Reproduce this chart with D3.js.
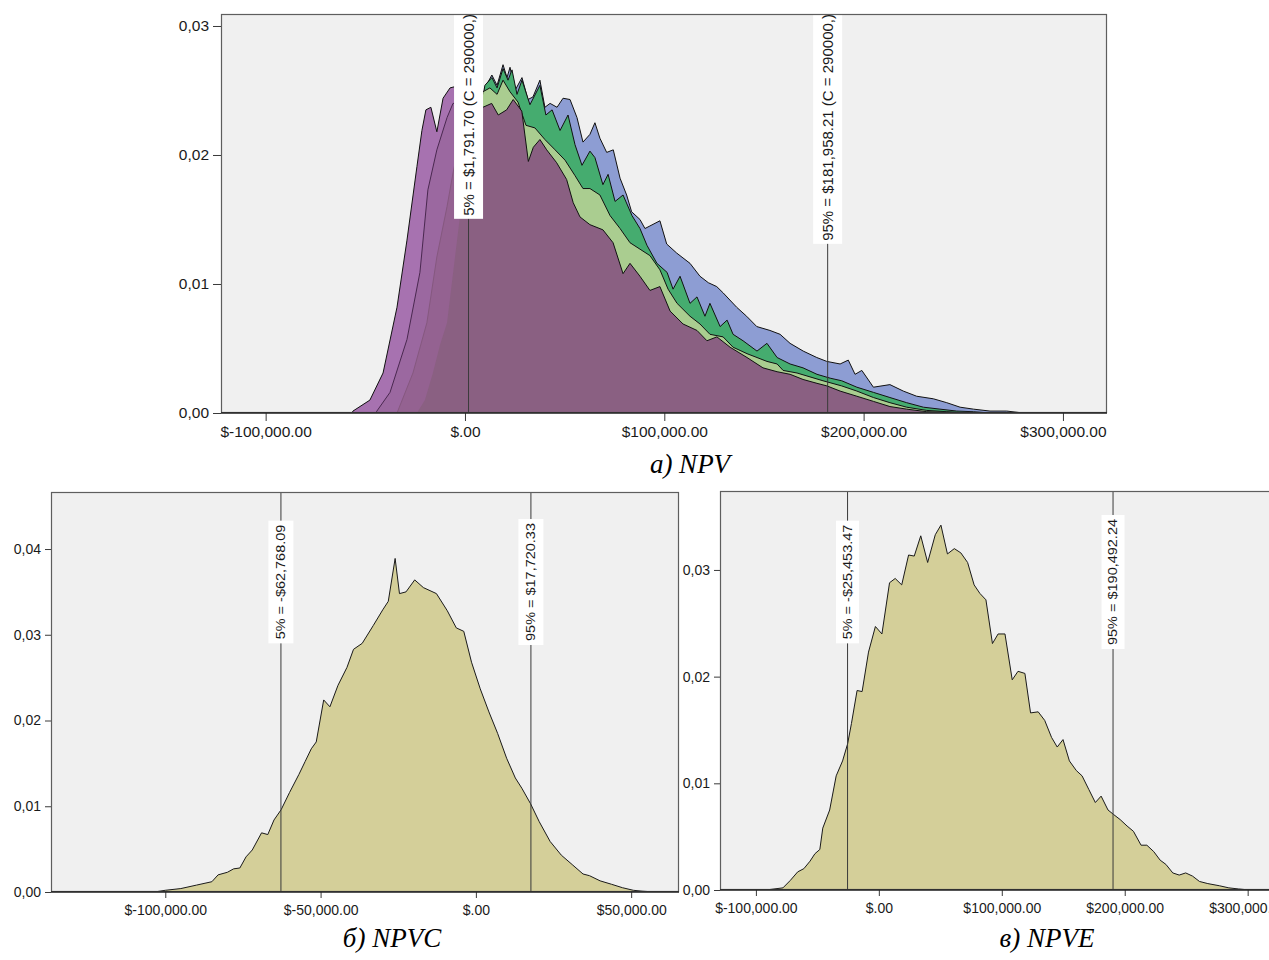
<!DOCTYPE html>
<html>
<head>
<meta charset="utf-8">
<script src="https://cdn.jsdelivr.net/npm/d3@7"></script>
<style>
  body { margin: 0; background: #fff; }
</style>
</head>
<body>
<div id="chart"></div>
<script>
// values: x in $ thousands, y = density

// --- a) NPV, overlaid groups (back to front)
let npvPurpleA = [[-56.7,0],[-56.2,0.00015],[-47.7,0.0010],[-41.1,0.0031],[-34.1,0.0082],[-29.1,0.0134],[-24.1,0.0191],[-21.6,0.0219],[-19.6,0.0235],[-17.1,0.0237],[-14.1,0.0218],[-11.0,0.0244],[-7.5,0.0252],[-5.0,0.0253],[-1.5,0.0250],[5,0.0228],[9,0.0220],[20,0.0190],[30,0.0170],[60,0.0120],[120,0.0040],[200,0.0005],[240,0]];
let npvPurpleB = [[-44.7,0],[-44.2,0.00015],[-37.6,0.0016],[-29.1,0.0057],[-22.6,0.0109],[-18.6,0.0173],[-14.1,0.0204],[-9.0,0.0229],[-6.0,0.0240],[-2,0.0240],[5,0.0222],[20,0.0185],[60,0.0110],[120,0.0038],[200,0.0004],[240,0]];
let npvPurpleC = [[-34.1,0],[-26.1,0.0031],[-19.1,0.0070],[-14.1,0.0121],[-9.0,0.0160],[-6.0,0.0186],[-2.5,0.0212],[5,0.0215],[20,0.0180],[60,0.0100],[120,0.0035],[200,0.0004],[240,0]];
let npvBlue = [[-5,0],[5,0.021],[10.0,0.0252],[13.5,0.0262],[16.1,0.0254],[19.1,0.0270],[21.1,0.0260],[22.6,0.0268],[25.1,0.0250],[28.6,0.0260],[31.6,0.0243],[34.1,0.0245],[37.6,0.0258],[40.1,0.0237],[42.7,0.0240],[46.2,0.0237],[49.2,0.0244],[52.7,0.0243],[56.2,0.0229],[59.2,0.0210],[62.7,0.0216],[65.2,0.0225],[67.7,0.0213],[71.1,0.0202],[74.4,0.0204],[77.8,0.0182],[81.1,0.0169],[83.6,0.0156],[87.8,0.0150],[90.3,0.0143],[92.8,0.0145],[97.8,0.0149],[101.2,0.0131],[106.2,0.0124],[112.9,0.0116],[117.9,0.0106],[122.1,0.0101],[126.3,0.0098],[129.6,0.0093],[136.3,0.0082],[141.3,0.0075],[146.4,0.0067],[153.0,0.0064],[158.1,0.0061],[163.1,0.0054],[169.7,0.0048],[176.5,0.0043],[181.5,0.0040],[188.2,0.0038],[192.3,0.0041],[195.7,0.0030],[199.1,0.0033],[204.9,0.0020],[213.2,0.0022],[219.9,0.0017],[226.6,0.0013],[235,0.0011],[241.7,0.0008],[248.4,0.00045],[255.1,0.0003],[263.4,0.00015],[271.8,0.00015],[280.1,0]];
let npvDarkGreen = [[-5,0],[5,0.021],[10.0,0.0254],[13.5,0.0260],[16.1,0.0252],[19.1,0.0267],[21.6,0.0258],[23.6,0.0266],[26.1,0.0247],[28.6,0.0258],[32.6,0.0239],[37.6,0.0254],[40.6,0.0231],[43.7,0.0235],[47.7,0.0219],[51.7,0.0231],[55.2,0.0208],[58.7,0.0192],[62.7,0.0203],[65.2,0.0198],[69.2,0.0177],[71.8,0.0185],[75.3,0.0164],[79.3,0.0169],[83.8,0.0153],[87.8,0.0143],[91.3,0.0130],[96.3,0.0116],[101.4,0.0109],[104.4,0.0096],[107.9,0.0106],[112.9,0.0085],[116.4,0.0090],[120.4,0.0075],[122.9,0.0085],[128.0,0.0067],[131.5,0.0072],[134.5,0.0061],[139.5,0.0056],[146.5,0.0048],[151.5,0.0054],[156.6,0.0043],[163.1,0.0038],[169.6,0.0035],[176.6,0.0030],[183.2,0.0027],[189,0.0025],[196.6,0.0020],[204.9,0.0016],[213.2,0.0012],[221.6,0.0008],[230,0.00045],[238.3,0.0003],[246.7,0.00015],[255.1,0.0001],[263.4,0]];
let npvLightGreen = [[-5,0],[5,0.020],[9.0,0.0249],[12.5,0.0252],[16.1,0.0247],[19.1,0.0258],[22.6,0.0249],[26.6,0.0241],[30.6,0.0223],[35.1,0.0221],[40.1,0.0212],[45.2,0.0204],[50.2,0.0196],[55.2,0.0184],[59.2,0.0174],[62.7,0.0174],[67.7,0.0169],[72.8,0.0153],[77.8,0.0143],[82.8,0.0132],[87.8,0.0127],[92.8,0.0122],[97.8,0.0111],[101.9,0.0096],[106.4,0.0085],[112.9,0.0075],[117.9,0.0069],[122.9,0.0061],[129.5,0.0059],[134.5,0.0051],[141.5,0.0046],[146.5,0.0043],[151.5,0.0040],[156.6,0.0038],[159.6,0.0033],[166.6,0.0031],[173.1,0.0028],[179.6,0.0025],[189,0.0021],[196.6,0.0017],[204.9,0.0012],[213.2,0.0008],[221.6,0.00045],[231.7,0.0002],[241.7,0.0001],[251.8,0]];
let npvMauve = [[-24.1,0],[-20.1,0.0010],[-16.1,0.0031],[-12.5,0.0053],[-9.0,0.0070],[-5.0,0.0121],[-1.5,0.0165],[1.5,0.0204],[5.0,0.0231],[9.0,0.0237],[13.4,0.0240],[16.7,0.0231],[20.9,0.0235],[24.2,0.0243],[28.5,0.0234],[31.8,0.0195],[34.3,0.0206],[37.6,0.0212],[41.0,0.0204],[46.0,0.0194],[51.0,0.0181],[54.3,0.0163],[57.7,0.0152],[62.7,0.0146],[69.2,0.0142],[74.3,0.0132],[79.3,0.0108],[82.8,0.0116],[87.8,0.0106],[92.8,0.0095],[97.8,0.0098],[102.9,0.0079],[109.4,0.0069],[116.4,0.0064],[121.4,0.0056],[126.4,0.0059],[133.0,0.0051],[141.5,0.0043],[149.5,0.0035],[156.6,0.0032],[163.1,0.0030],[169.6,0.0026],[176.6,0.0023],[181.6,0.0021],[188.2,0.0017],[196.6,0.0013],[204.9,0.0009],[213.2,0.0005],[221.6,0.0003],[231.7,0.0001],[245,0.00005],[273.5,0]];

// --- б) NPVC
let npvc = [[-103.5,0],[-100,0.0002],[-95,0.0004],[-90,0.0008],[-85,0.0012],[-83,0.0020],[-80,0.0023],[-78,0.0027],[-76,0.0028],[-74,0.0041],[-72,0.0049],[-69,0.0069],[-67,0.0067],[-65,0.0084],[-62.7,0.0096],[-60,0.0116],[-57,0.0137],[-55,0.0152],[-53,0.0167],[-51.4,0.0175],[-49,0.0224],[-47,0.0216],[-44.4,0.0241],[-41.5,0.0262],[-39.4,0.0283],[-36.6,0.0290],[-33,0.0311],[-30,0.0329],[-28.2,0.0339],[-26,0.0389],[-24.6,0.0348],[-22.5,0.0350],[-19.7,0.0364],[-16.9,0.0355],[-12.7,0.0348],[-9.2,0.0328],[-6.3,0.0308],[-3.9,0.0304],[-1.4,0.0268],[1.4,0.0237],[4.2,0.0210],[7,0.0185],[9.9,0.0156],[12.7,0.0133],[14.8,0.0121],[17.6,0.0103],[20.4,0.0082],[23.9,0.0059],[27.5,0.0043],[31,0.0032],[34.5,0.0021],[36.6,0.0019],[40,0.0013],[43.7,0.0009],[47.2,0.0005],[50.7,0.0002],[53.5,0.0001],[57.7,0]];

// --- в) NPVE
let npve = [[-92,0],[-78,0.0002],[-72,0.0009],[-66,0.0017],[-61,0.0020],[-56,0.0027],[-52,0.0034],[-48,0.0038],[-45.6,0.0058],[-40,0.0075],[-34.7,0.0107],[-29.5,0.0121],[-25.4,0.0137],[-22.3,0.0156],[-17.7,0.0187],[-13.6,0.0186],[-8.4,0.0223],[-2.8,0.0247],[2.5,0.0240],[8.7,0.0288],[13.3,0.0292],[18.6,0.0286],[24.2,0.0314],[28.8,0.0313],[34.1,0.0332],[39.7,0.0307],[45.9,0.0333],[50.5,0.0342],[55.8,0.0315],[61.4,0.0320],[66.7,0.0316],[72.2,0.0307],[77.5,0.0286],[82.2,0.0278],[87.1,0.0272],[92.4,0.0231],[97,0.0240],[102.6,0.0240],[108.5,0.0197],[113.2,0.0205],[118.8,0.0203],[123.4,0.0166],[129.6,0.0167],[134.9,0.0159],[140.5,0.0143],[145.1,0.0134],[149.8,0.0141],[155,0.0121],[160.6,0.0112],[165.3,0.0107],[170.9,0.0094],[176.1,0.0082],[180.8,0.0088],[186.4,0.0075],[190.7,0.0071],[196.3,0.0066],[201.9,0.0060],[207.1,0.0055],[213.3,0.0042],[218,0.0042],[223.6,0.0036],[228.8,0.0028],[233.5,0.0024],[239.1,0.0016],[244.3,0.0014],[249.6,0.0016],[255.2,0.0013],[260.8,0.0008],[267.6,0.0006],[276.9,0.0004],[284.7,0.0002],[292.4,0.0001],[301.7,0]];

// tick values
let npvTicksX = [-100000, 0, 100000, 200000, 300000];
let npvTicksY = [0, 0.01, 0.02, 0.03];
let npvcTicksX = [-100000, -50000, 0, 50000];
let npvcTicksY = [0, 0.01, 0.02, 0.03, 0.04];
let npveTicksX = [-100000, 0, 100000, 200000, 300000];
let npveTicksY = [0, 0.01, 0.02, 0.03];

// percentile lines
let npvMarkers = [
  { value: 1791.70, label: "5% = $1,791.70 (C = 290000,)" },
  { value: 181958.21, label: "95% = $181,958.21 (C = 290000,)" }
];
let npvcMarkers = [
  { value: -62768.09, label: "5% = -$62,768.09" },
  { value: 17720.33, label: "95% = $17,720.33" }
];
let npveMarkers = [
  { value: -25453.47, label: "5% = -$25,453.47" },
  { value: 190492.24, label: "95% = $190,492.24" }
];

let captions = ["а) NPV", "б) NPVC", "в) NPVE"];

/********************************************/
let svgWidth = 1269;
let svgHeight = 960;
let fontSans = "'Liberation Sans', Arial, sans-serif";

let svg = d3
  .select("#chart")
  .append("svg")
  .attr("width", svgWidth)
  .attr("height", svgHeight)
  .style("display", "block");

//money labels like SPSS: $-100,000.00, $.00
function fmtMoney(v) {
  if (v === 0) return "$.00";
  let s = d3.format(",.2f")(Math.abs(v));
  return v < 0 ? "$-" + s : "$" + s;
}

function fmtDensity(v) {
  return d3.format(".2f")(v).replace(".", ",");
}

/********************************************/
//draws one framed panel with its areas, percentile lines and axes
function drawPanel(p) {
  let g = svg.append("g");
  let w = p.right - p.left;
  let h = p.bottom - p.top;

  let x = d3.scaleLinear().domain(p.xDomain).range([p.left, p.right]);
  let y = d3.scaleLinear().domain(p.yDomain).range([p.bottom, p.top]);

  svg.append("clipPath").attr("id", "clip-" + p.id)
    .append("rect")
    .attr("x", p.left).attr("y", p.top)
    .attr("width", w).attr("height", h);

  g.append("rect")
    .attr("x", p.left).attr("y", p.top)
    .attr("width", w).attr("height", h)
    .attr("fill", "#f0f0f0");

  let plot = g.append("g").attr("clip-path", `url(#clip-${p.id})`);

  let area = d3.area()
    .x((d) => x(d[0] * 1000))
    .y0(y(0))
    .y1((d) => y(d[1]));
  let line = d3.line()
    .x((d) => x(d[0] * 1000))
    .y((d) => y(d[1]));

  p.series.forEach(function (s, i) {
    let st = p.styles[i];
    plot.append("path").datum(s)
      .attr("d", area)
      .attr("fill", st.fill);
    let outline = s.filter((d) => st.from === undefined || d[0] >= st.from);
    plot.append("path").datum(outline)
      .attr("d", line)
      .attr("fill", "none")
      .attr("stroke", st.stroke)
      .attr("stroke-width", 1)
      .attr("stroke-linejoin", "round");
  });

  //percentile lines and their labels
  p.markers.forEach(function (m) {
    let mx = x(m.value);
    plot.append("line")
      .attr("x1", mx).attr("x2", mx)
      .attr("y1", p.top).attr("y2", p.bottom)
      .attr("stroke", "#3a3a3a")
      .attr("stroke-width", 1);

    let lg = plot.append("g");
    let t = lg.append("text")
      .attr("transform", `translate(${mx},${p.labelY}) scale(${p.labelSx},1) rotate(-90)`)
      .attr("text-anchor", p.labelAnchor)
      .attr("dy", "0.36em")
      .attr("fill", "#1a1a1a")
      .style("font-family", fontSans)
      .style("font-size", p.labelSize + "px")
      .text(m.label);
    let len = t.node().getComputedTextLength();
    let y0, y1;
    if (p.labelAnchor === "end") {
      y0 = p.labelY - 4;
      y1 = p.labelY + len + 3;
    } else {
      y0 = p.labelY - len / 2 - 4;
      y1 = p.labelY + len / 2 + 4;
    }
    lg.insert("rect", "text")
      .attr("x", mx - p.boxW / 2).attr("y", y0)
      .attr("width", p.boxW).attr("height", y1 - y0)
      .attr("fill", "#ffffff");
  });

  //axes
  let xAxis = d3.axisBottom(x)
    .tickValues(p.xTicks)
    .tickFormat(fmtMoney)
    .tickSize(p.tickLen)
    .tickPadding(p.xPad);
  let yAxis = d3.axisLeft(y)
    .tickValues(p.yTicks)
    .tickFormat(fmtDensity)
    .tickSize(p.tickLen)
    .tickPadding(p.yPad);

  let gx = g.append("g")
    .attr("transform", `translate(0, ${p.bottom})`)
    .call(xAxis);
  let gy = g.append("g")
    .attr("transform", `translate(${p.left}, 0)`)
    .call(yAxis);

  [gx, gy].forEach(function (a) {
    a.select(".domain").remove();
    a.selectAll(".tick line").attr("stroke", "#3a3a3a");
    a.selectAll(".tick text")
      .attr("fill", "#1a1a1a")
      .style("font-family", fontSans)
      .style("font-size", p.tickFont + "px");
  });

  //frame
  g.append("rect")
    .attr("x", p.left + 0.5).attr("y", p.top + 0.5)
    .attr("width", w - 1).attr("height", h - 1)
    .attr("fill", "none")
    .attr("stroke", "#5e5e5e")
    .attr("stroke-width", 1.2);
  g.append("line")
    .attr("x1", p.left).attr("x2", p.right)
    .attr("y1", p.bottom).attr("y2", p.bottom)
    .attr("stroke", "#222")
    .attr("stroke-width", 1.5);
}

/********************************************/
drawPanel({
  id: "npv",
  left: 221, top: 14, right: 1107, bottom: 413,
  xDomain: [-122400, 322100], yDomain: [0, 0.03093],
  xTicks: npvTicksX, yTicks: npvTicksY,
  series: [npvPurpleA, npvPurpleB, npvPurpleC, npvBlue, npvDarkGreen, npvLightGreen, npvMauve],
  styles: [
    { fill: "#a772b0", stroke: "#111" },
    { fill: "#9b68a0", stroke: "#4a2850" },
    { fill: "#946291", stroke: "#85587f" },
    { fill: "#8d9dd3", stroke: "#111" },
    { fill: "#45ac6f", stroke: "#111" },
    { fill: "#aacd90", stroke: "#111" },
    { fill: "#8a6082", stroke: "#111", from: -2 }
  ],
  markers: npvMarkers,
  labelY: 14, labelAnchor: "end", labelSize: 15, labelSx: 1, boxW: 29,
  tickLen: 8, xPad: 5, yPad: 4, tickFont: 15.5
});

drawPanel({
  id: "npvc",
  left: 51, top: 492, right: 679, bottom: 892,
  xDomain: [-136800, 65400], yDomain: [0, 0.04665],
  xTicks: npvcTicksX, yTicks: npvcTicksY,
  series: [npvc],
  styles: [{ fill: "#d4cf99", stroke: "#1a1a1a" }],
  markers: npvcMarkers,
  labelY: 582, labelAnchor: "middle", labelSize: 14.5, labelSx: 0.85, boxW: 25,
  tickLen: 6, xPad: 7, yPad: 4, tickFont: 14
});

drawPanel({
  id: "npve",
  left: 720, top: 491, right: 1280, bottom: 890,
  xDomain: [-129200, 326300], yDomain: [0, 0.0374],
  xTicks: npveTicksX, yTicks: npveTicksY,
  series: [npve],
  styles: [{ fill: "#d4cf99", stroke: "#1a1a1a" }],
  markers: npveMarkers,
  labelY: 582, labelAnchor: "middle", labelSize: 14.5, labelSx: 0.85, boxW: 23,
  tickLen: 6, xPad: 7, yPad: 4, tickFont: 14
});

//captions under each panel
let captionPos = [[690, 473], [392, 947], [1047, 947]];
captions.forEach(function (c, i) {
  svg.append("text")
    .attr("x", captionPos[i][0])
    .attr("y", captionPos[i][1])
    .attr("text-anchor", "middle")
    .style("font-family", "'Liberation Serif', 'Times New Roman', serif")
    .style("font-style", "italic")
    .style("font-size", "27px")
    .attr("fill", "#000")
    .text(c);
});
</script>
</body>
</html>
